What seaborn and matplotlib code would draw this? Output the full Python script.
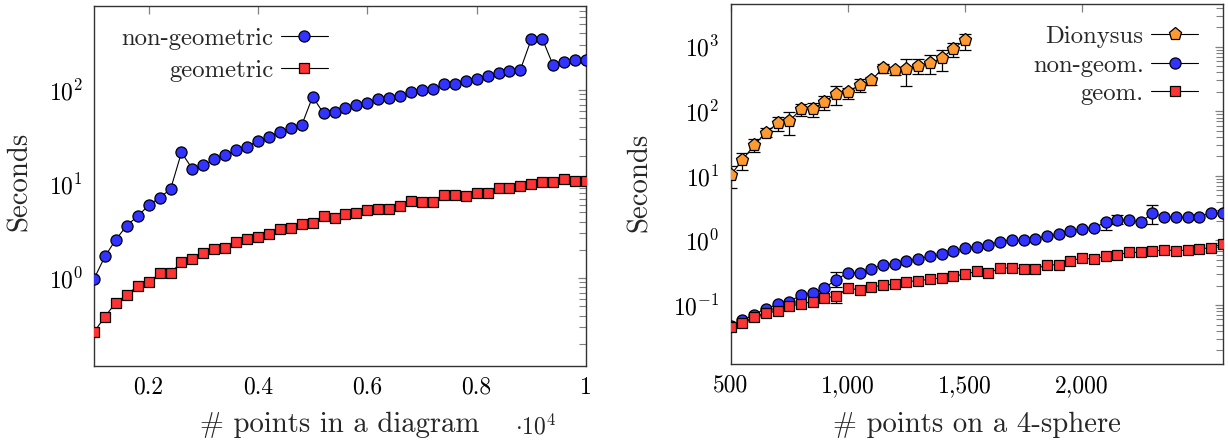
import numpy as np
import matplotlib
matplotlib.use("Agg")
import matplotlib.pyplot as plt
import matplotlib.ticker as mticker
import seaborn as sns

# ---------------- data: left panel (persistence diagrams) ----------------
diag_points = np.arange(1000, 10001, 200)
diag_nongeometric = [0.98, 1.70, 2.57, 3.62, 4.57, 5.95,
                     7.2, 8.8, 21.7, 14.5, 15.8, 18.4, 20.5, 22.8, 24.9, 28.9,
                     32, 36, 39.4, 42.5, 85, 56.5, 58, 64, 70, 72,
                     81, 83, 87, 95, 101, 102, 115, 116, 126, 131,
                     142, 151, 160, 165, 349, 352, 183, 199, 208, 208]
diag_geometric = [0.267, 0.388, 0.55, 0.66, 0.83, 0.90,
                  1.12, 1.13, 1.48, 1.60, 1.83, 2.04, 2.10, 2.42, 2.62, 2.75,
                  2.94, 3.32, 3.43, 3.72, 3.87, 4.60, 4.35, 4.80, 4.91, 5.29,
                  5.50, 5.50, 5.78, 6.64, 6.43, 6.43, 7.57, 7.69, 7.51, 8.02,
                  7.95, 9.14, 9.07, 9.52, 10.1, 10.4, 10.4, 11.3, 10.9, 10.7]

# ---------------- data: right panel (4-sphere) ----------------
sphere_points = np.arange(500, 2601, 50)
dion_points = np.arange(500, 1501, 50)
dionysus = [10.3, 17.6, 30, 46.7, 65, 70.8, 107, 109, 141, 185, 199,
            255, 302, 463, 431, 452, 508, 560, 661, 931, 1270]
dionysus_lo = [6.5, 12.3, 23.7, 40.5, 49.6, 42.5, 85.6, 80.7, 105, 124, 153,
               197, 252, 396, 365, 247, 378, 378, 421, 685, 890]
dionysus_hi = [14, 22.3, 36.8, 54.5, 80.7, 98.7, 128, 136, 175, 247, 232,
               316, 344, 540, 462, 646, 646, 745, 890, 1153, 1591]
sphere_nongeom = [0.048, 0.058, 0.071, 0.0886, 0.1025, 0.113, 0.144, 0.153, 0.183, 0.248,
                  0.316, 0.316, 0.366, 0.418, 0.439, 0.477, 0.526, 0.566, 0.608, 0.679,
                  0.766, 0.804, 0.855, 0.964, 1.02, 1.0, 1.06, 1.18, 1.24, 1.40,
                  1.53, 1.58, 1.90, 2.09, 2.05, 1.92, 2.64, 2.34, 2.28, 2.28,
                  2.34, 2.67, 2.70]
sphere_geom = [0.0455, 0.0532, 0.0647, 0.0757, 0.0804, 0.0953, 0.105, 0.113, 0.129, 0.137,
               0.183, 0.172, 0.192, 0.202, 0.212, 0.231, 0.239, 0.251, 0.264, 0.284,
               0.298, 0.336, 0.316, 0.370, 0.379, 0.366, 0.36, 0.423, 0.418, 0.489,
               0.532, 0.514, 0.573, 0.601, 0.654, 0.654, 0.679, 0.721, 0.696, 0.712,
               0.738, 0.775, 0.885]
nongeom_err_x = [950, 2100, 2150, 2300]
nongeom_err_lo = [0.19, 1.44, 1.77, 1.79]
nongeom_err_hi = [0.324, 2.07, 2.48, 3.57]
geom_err_x = [950]
geom_err_lo = [0.106]
geom_err_hi = [0.16]

left_xticks = [2000, 4000, 6000, 8000, 10000]
right_xticks = [500, 1000, 1500, 2000]

# ---------------- style ----------------
sns.set_theme(style="white")
plt.rcParams.update({
    "font.family": ["cmr10", "DejaVu Serif"],
    "mathtext.fontset": "cm",
    "axes.formatter.use_mathtext": True,
    "axes.unicode_minus": True,
    "axes.edgecolor": "#333333",
    "axes.linewidth": 1.0,
})

BLUE = "#3333ff"
RED = "#ff3333"
ORANGE = "#ff9a33"
TICK_FS = 17
LAB_FS = 20.7
LEG_FS = 17.8

fig = plt.figure(figsize=(12.28, 4.44), dpi=100)
axL = fig.add_axes([94 / 1228, 78.3 / 444, 492 / 1228, 360 / 444])
axR = fig.add_axes([730.7 / 1228, 80.3 / 444, 492 / 1228, 359.7 / 444])

line_kw = dict(color="black", linewidth=0.8, markeredgecolor="black", markeredgewidth=0.9)

# left panel
sns.lineplot(x=diag_points, y=diag_nongeometric, ax=axL, marker="o", markersize=8,
             markerfacecolor=BLUE, label="non-geometric", zorder=3, **line_kw)
sns.lineplot(x=diag_points, y=diag_geometric, ax=axL, marker="s", markersize=7.5,
             markerfacecolor=RED, label="geometric", zorder=4, **line_kw)

# right panel
dion_y = np.array(dionysus)
axR.errorbar(dion_points, dion_y,
             yerr=[dion_y - np.array(dionysus_lo), np.array(dionysus_hi) - dion_y],
             fmt="none", ecolor="black", elinewidth=0.9, capsize=4, capthick=0.9, zorder=2)
sns.lineplot(x=dion_points, y=dionysus, ax=axR, marker="p", markersize=9.5,
             markerfacecolor=ORANGE, label="Dionysus", zorder=3, **line_kw)

ng_map = dict(zip(sphere_points, sphere_nongeom))
ng_c = np.array([ng_map[v] for v in nongeom_err_x])
axR.errorbar(nongeom_err_x, ng_c,
             yerr=[ng_c - np.array(nongeom_err_lo), np.array(nongeom_err_hi) - ng_c],
             fmt="none", ecolor="black", elinewidth=0.9, capsize=4, capthick=0.9, zorder=2)
g_map = dict(zip(sphere_points, sphere_geom))
g_c = np.array([g_map[v] for v in geom_err_x])
axR.errorbar(geom_err_x, g_c,
             yerr=[g_c - np.array(geom_err_lo), np.array(geom_err_hi) - g_c],
             fmt="none", ecolor="black", elinewidth=0.9, capsize=4, capthick=0.9, zorder=2)

sns.lineplot(x=sphere_points, y=sphere_nongeom, ax=axR, marker="o", markersize=8,
             markerfacecolor=BLUE, label="non-geom.", zorder=3, **line_kw)
sns.lineplot(x=sphere_points, y=sphere_geom, ax=axR, marker="s", markersize=7.5,
             markerfacecolor=RED, label="geom.", zorder=4, **line_kw)

for ax in (axL, axR):
    ax.set_yscale("log")
    ax.yaxis.set_major_locator(mticker.LogLocator(base=10, numticks=20))
    ax.yaxis.set_minor_locator(mticker.LogLocator(base=10, subs=np.arange(2, 10), numticks=20))
    ax.yaxis.set_minor_formatter(mticker.NullFormatter())
    ax.tick_params(which="both", direction="in", top=True, right=True,
                   color="#808080", labelsize=TICK_FS, labelcolor="black")
    ax.tick_params(which="major", length=6, width=0.9, pad=8)
    ax.tick_params(which="minor", length=5, width=0.8)
    ax.tick_params(axis="x", which="minor", bottom=False, top=False)
    ax.set_ylabel("Seconds", fontsize=LAB_FS, va="center")
    ax.grid(False)
    for s in ax.spines.values():
        s.set_visible(True)

axL.set_xlim(1000, 10000)
axL.set_ylim(0.117, 790)
axL.set_xticks(left_xticks)
axL.xaxis.set_major_formatter(mticker.FuncFormatter(lambda v, p: f"{v / 1e4:g}"))
axL.set_xlabel("# points in a diagram", fontsize=LAB_FS, va="center")
axL.xaxis.set_label_coords(0.5, -0.163)
axL.yaxis.set_label_coords(-0.152, 0.512)
fig.text(536 / 1228, 1 - 427 / 444, r"$\cdot 10^{4}$", fontsize=TICK_FS, ha="center", va="center")

axR.set_xlim(500, 2600)
axR.set_ylim(0.0124, 4570)
axR.set_xticks(right_xticks)
axR.xaxis.set_major_formatter(mticker.FuncFormatter(lambda v, p: f"{int(v):,}"))
axR.set_xlabel("# points on a 4-sphere", fontsize=LAB_FS, va="center")
axR.xaxis.set_label_coords(0.5, -0.170)
axR.yaxis.set_label_coords(-0.184, 0.504)

axL.legend(loc="upper right", bbox_to_anchor=(0.495, 0.966), frameon=False, markerfirst=False,
           fontsize=LEG_FS, handlelength=1.9, handletextpad=0.3, labelspacing=0.39,
           borderaxespad=0.0)
axR.legend(loc="upper right", bbox_to_anchor=(0.970, 0.967), frameon=False, markerfirst=False,
           fontsize=LEG_FS, handlelength=1.9, handletextpad=0.3, labelspacing=0.25,
           borderaxespad=0.0)

fig.savefig("out.png", dpi=100)
